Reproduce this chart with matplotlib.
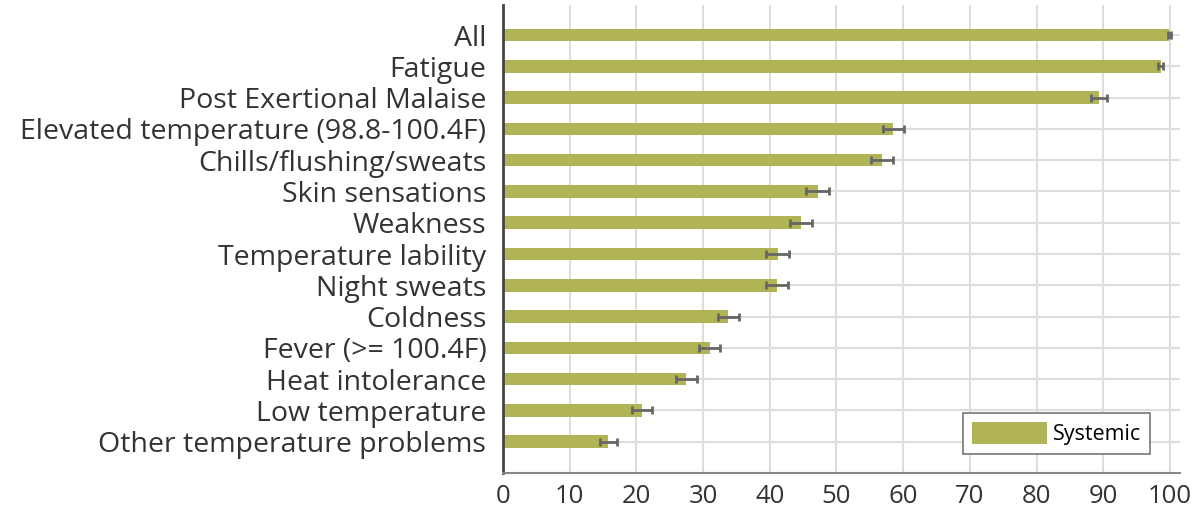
import numpy as np
import matplotlib.pyplot as plt

symptoms = ["All", "Fatigue", "Post Exertional Malaise",
            "Elevated temperature (98.8-100.4F)", "Chills/flushing/sweats",
            "Skin sensations", "Weakness", "Temperature lability",
            "Night sweats", "Coldness", "Fever (>= 100.4F)",
            "Heat intolerance", "Low temperature", "Other temperature problems"]
percent = [99.9, 98.6, 89.3, 58.5, 56.8, 47.2, 44.7, 41.2, 41.1, 33.8, 31.0, 27.5, 20.9, 15.8]
error = [0.2, 0.4, 1.2, 1.6, 1.65, 1.7, 1.7, 1.75, 1.7, 1.6, 1.6, 1.6, 1.5, 1.3]

plt.rcParams['font.family'] = ['Open Sans', 'DejaVu Sans']

fig = plt.figure(figsize=(12.03, 5.14), dpi=100, facecolor='#fffffd')
ax = fig.add_axes([503/1203, 1-473/514, 677/1203, 468/514])
ax.set_facecolor('#fffffd')

y = np.arange(len(symptoms))
ax.barh(y, percent, height=0.4, color='#b0b454', label='Systemic', zorder=2)
ax.errorbar(percent, y, xerr=error, fmt='none', ecolor='#666666',
            elinewidth=2, capsize=3, capthick=2, zorder=3)

ax.set_xlim(0, 101.5)
ax.set_ylim(14, -0.96)
ax.set_xticks(np.arange(0, 101, 10))
ax.set_yticks(y)
ax.set_yticklabels(symptoms, fontsize=20.5, color='#333333')
ax.tick_params(axis='x', labelsize=18.5, colors='#333333', length=0, pad=8)
ax.tick_params(axis='y', length=0, pad=12)
ax.grid(True, color='#dddddd', linewidth=1.5, zorder=0)
ax.set_axisbelow(True)

for s in ['top', 'right']:
    ax.spines[s].set_visible(False)
ax.spines['left'].set_color('#444444')
ax.spines['left'].set_linewidth(2)
ax.spines['bottom'].set_color('#888888')
ax.spines['bottom'].set_linewidth(1.5)

leg = ax.legend(loc='upper left', bbox_to_anchor=(963/1203, 1-413/514),
                bbox_transform=fig.transFigure, borderaxespad=0, fontsize=15.5,
                fancybox=False, edgecolor='#777777', framealpha=1,
                handlelength=3.5, handleheight=1.2, handletextpad=0.3)
leg.get_frame().set_linewidth(1.2)

fig.savefig('out.png', dpi=100, facecolor=fig.get_facecolor())
